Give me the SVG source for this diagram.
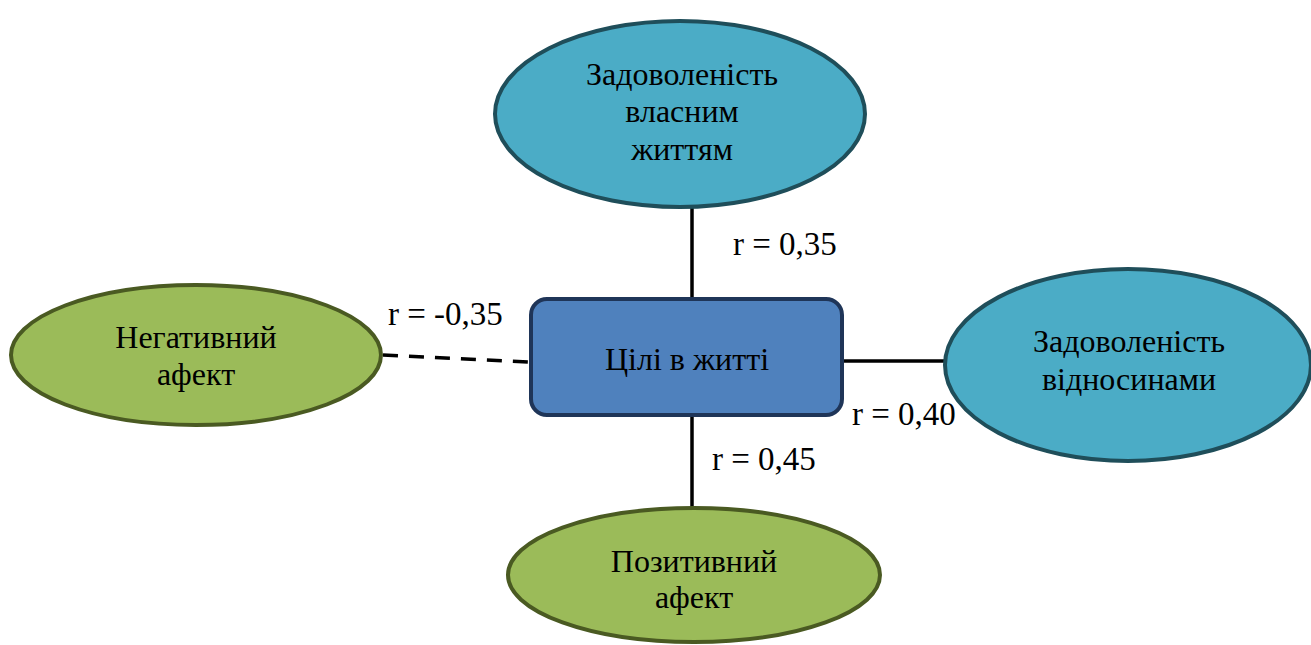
<svg xmlns="http://www.w3.org/2000/svg" width="1311" height="645" viewBox="0 0 1311 645">
<style>
text{font-family:"Liberation Serif","Times New Roman",serif;font-size:32px;fill:#000;text-anchor:middle}
.lbl{text-anchor:start;font-size:33px}
.blue{fill:#4BACC6;stroke:#1F4E5A;stroke-width:4}
.green{fill:#9BBB59;stroke:#4A5A22;stroke-width:4}
.box{fill:#4F81BD;stroke:#1F3558;stroke-width:4}
.ln{stroke:#000;stroke-width:3.5;fill:none}
</style>
<rect width="1311" height="645" fill="#fff"/>
<g id="connectors">
<line class="ln" x1="692" y1="208" x2="692" y2="298"/>
<line class="ln" x1="692" y1="416" x2="692" y2="507"/>
<line class="ln" x1="843" y1="361" x2="944" y2="361"/>
<line class="ln" x1="383" y1="355" x2="530" y2="362" stroke-dasharray="15,11"/>
<text class="lbl" x="733" y="255">r = 0,35</text>
<text class="lbl" x="388" y="325">r = -0,35</text>
<text class="lbl" x="852" y="425">r = 0,40</text>
<text class="lbl" x="712" y="470">r = 0,45</text>
</g>
<g id="node-life-satisfaction">
<ellipse class="blue" cx="680" cy="114" rx="185" ry="93"/>
<text x="682" y="85">Задоволеність</text>
<text x="682" y="122">власним</text>
<text x="682" y="160">життям</text>
</g>
<g id="node-goals">
<rect class="box" x="531" y="299" width="311" height="116" rx="16"/>
<text x="687" y="370">Цілі в житті</text>
</g>
<g id="node-relationships">
<ellipse class="blue" cx="1128" cy="365" rx="183" ry="96"/>
<text x="1129" y="352">Задоволеність</text>
<text x="1129" y="390">відносинами</text>
</g>
<g id="node-negative">
<ellipse class="green" cx="196" cy="355" rx="185" ry="70"/>
<text x="196" y="348">Негативний</text>
<text x="196" y="385">афект</text>
</g>
<g id="node-positive">
<ellipse class="green" cx="694" cy="575" rx="186" ry="67"/>
<text x="694" y="572">Позитивний</text>
<text x="694" y="608">афект</text>
</g>
</svg>
